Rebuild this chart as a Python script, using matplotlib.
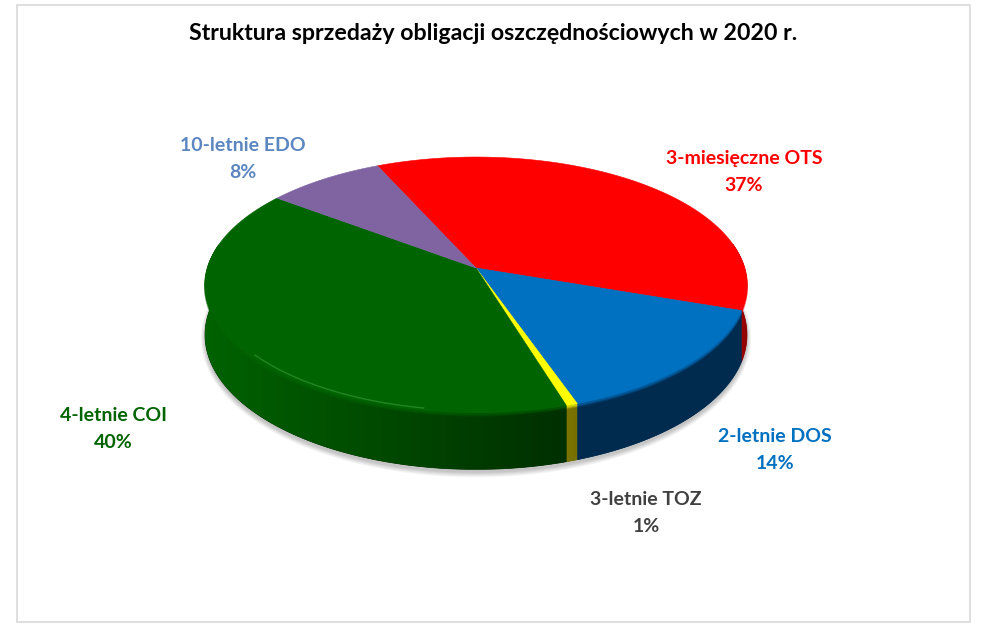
import numpy as np
import matplotlib
matplotlib.use('Agg')
import matplotlib.pyplot as plt
from matplotlib.colors import LinearSegmentedColormap
from matplotlib.patches import Polygon, Rectangle

plt.rcParams['font.family'] = ['Lato', 'DejaVu Sans']

title = 'Struktura sprzedaży obligacji oszczędnościowych w 2020 r.'
names = ['3-miesięczne OTS', '2-letnie DOS', '3-letnie TOZ', '4-letnie COI', '10-letnie EDO']
shares = [37.0, 14.4, 0.6, 40.0, 8.0]

top_colors = ['#ff0000', '#0070c0', '#ffff00', '#006400', '#8064a2']
wall_dark = ['#8c0000', '#002a4e', '#776f00', '#002f00', '#4c3c60']
wall_light = ['#b00000', '#002c50', '#7c7400', '#006200', '#4c3c60']
text_colors = ['#ff0000', '#0070c0', '#404040', '#006400', '#5b86c0']
text_pos = [(744, 172), (775, 450), (646, 513), (113, 429), (243, 159)]

# pie geometry in pixels, with a bit of perspective
cx, cy = 476, 268
rx, ry = 268.6, 125.7
persp = 0.1327
depth = 49
start = -24.3


def rim(t, scale=1.0):
    a = np.radians(t)
    u, v = np.sin(a) * scale, -np.cos(a) * scale
    w = 1 - persp * v
    return cx + rx * u / w, cy + ry * v / w, depth / w


fig = plt.figure(figsize=(9.88, 6.36), dpi=100)
ax = fig.add_axes([0, 0, 1, 1])

ax.add_patch(Rectangle((17, 5), 953, 617, fc='white', ec='#d9d9d9', lw=1.2, zorder=0))

# soft shadow under the pie
tt = np.linspace(0, 360, 361)
xs, ys, ds = rim(tt)
mx, my = xs.mean(), (ys + ds).mean()
for grow in np.linspace(1.035, 1.0, 10):
    px = mx + (xs - mx) * (1 + (grow - 1) * 0.45)
    py = my + 3 + (ys + ds - my) * grow
    ax.add_patch(Polygon(np.column_stack([px, py]), fc='#000000', ec='none', alpha=0.022, zorder=1))

edges = start + np.concatenate([[0], np.cumsum(shares)]) * 3.6

# side walls, one clipped gradient per slice
for i in range(len(shares)):
    t = np.linspace(edges[i], edges[i + 1], 200)
    t = t[np.cos(np.radians(t)) < 0.2]
    if len(t) < 2:
        continue
    x, y, d = rim(t)
    outline = np.column_stack([np.r_[x, x[::-1]], np.r_[y, (y + d)[::-1]]])
    wall = Polygon(outline, fc=wall_dark[i], ec=wall_dark[i], lw=0.5, zorder=2)
    ax.add_patch(wall)
    cmap = LinearSegmentedColormap.from_list('w', [wall_light[i], wall_dark[i]])
    im = ax.imshow(np.linspace(0, 1, 256)[None, :], cmap=cmap, aspect='auto', zorder=2.1,
                   extent=(x.min(), x.max(), (y + d).max(), y.min()), interpolation='bilinear')
    im.set_clip_path(wall)

# top of the pie
for i in range(len(shares)):
    t = np.linspace(edges[i], edges[i + 1], 200)
    x, y, d = rim(t)
    pts = np.column_stack([np.r_[cx, x], np.r_[cy, y]])
    ax.add_patch(Polygon(pts, fc=top_colors[i], ec=top_colors[i], lw=0.4, zorder=3))
    # soft edge where the top turns into the wall
    keep = np.cos(np.radians(t)) < 0.1
    if keep.sum() > 1:
        for k, a in zip([1.0, 2.0, 3.0], [0.6, 0.35, 0.15]):
            ax.plot(x[keep], y[keep] + k, color=top_colors[i], alpha=a, lw=1.2,
                    solid_capstyle='butt', zorder=2.5)

# pale line on the green part
t = np.linspace(edges[3] + 27, edges[3] + 67, 120)
x, y, d = rim(t, 0.985)
ax.plot(x, y, color='#3f9f3f', alpha=0.55, lw=1.0, zorder=3.6)

ax.text(493, 33, title, ha='center', va='center', fontsize=16.7, fontweight='bold', color='black', zorder=5)
for name, val, col, pos in zip(names, shares, text_colors, text_pos):
    ax.text(pos[0], pos[1], '%s\n%d%%' % (name, round(val)), ha='center', va='center',
            fontsize=14, fontweight='bold', color=col, linespacing=1.65, zorder=5)

ax.set_xlim(0, 988)
ax.set_ylim(636, 0)
ax.axis('off')

fig.savefig('out.png', dpi=100)
